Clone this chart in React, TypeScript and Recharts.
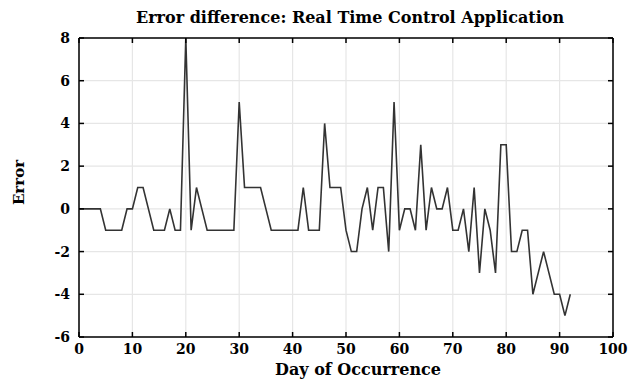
import React from "react";
import {
  LineChart,
  Line,
  XAxis,
  YAxis,
  CartesianGrid,
  Label,
} from "recharts";

const days = [
  0, 1, 2, 3, 4, 5, 6, 7, 8, 9, 10, 11, 12, 13, 14, 15, 16, 17, 18, 19, 20,
  21, 22, 23, 24, 25, 26, 27, 28, 29, 30, 31, 32, 33, 34, 35, 36, 37, 38, 39,
  40, 41, 42, 43, 44, 45, 46, 47, 48, 49, 50, 51, 52, 53, 54, 55, 56, 57, 58,
  59, 60, 61, 62, 63, 64, 65, 66, 67, 68, 69, 70, 71, 72, 73, 74, 75, 76, 77,
  78, 79, 80, 81, 82, 83, 84, 85, 86, 87, 88, 89, 90, 91, 92,
];

const errors = [
  0, 0, 0, 0, 0, -1, -1, -1, -1, 0, 0, 1, 1, 0, -1, -1, -1, 0, -1, -1, 8,
  -1, 1, 0, -1, -1, -1, -1, -1, -1, 5, 1, 1, 1, 1, 0, -1, -1, -1, -1,
  -1, -1, 1, -1, -1, -1, 4, 1, 1, 1, -1, -2, -2, 0, 1, -1, 1, 1, -2,
  5, -1, 0, 0, -1, 3, -1, 1, 0, 0, 1, -1, -1, 0, -2, 1, -3, 0, -1,
  -3, 3, 3, -2, -2, -1, -1, -4, -3, -2, -3, -4, -4, -5, -4,
];

const xTicks = [0, 10, 20, 30, 40, 50, 60, 70, 80, 90, 100];
const yTicks = [-6, -4, -2, 0, 2, 4, 6, 8];

const data = days.map((d, i) => ({ day: d, error: errors[i] }));

const FONT = "'DejaVu Serif', 'Liberation Serif', serif";
const tickStyle = { fontFamily: FONT, fontWeight: 700, fontSize: 14, fill: "#000" };
const labelStyle = { fontFamily: FONT, fontWeight: 700, fontSize: 16, fill: "#000" };

export default function App() {
  return (
    <div style={{ position: "absolute", left: 0, top: 0, width: 641, height: 379, background: "#fff" }}>
      <LineChart
        width={641}
        height={379}
        data={data}
        margin={{ top: 0, right: 0, bottom: 0, left: 0 }}
      >
        <text
          x={350}
          y={23}
          textAnchor="middle"
          style={{ fontFamily: FONT, fontWeight: 700, fontSize: 16, fill: "#000" }}
        >
          Error difference: Real Time Control Application
        </text>
        <CartesianGrid xAxisId="b" yAxisId="l" stroke="#e6e6e6" strokeWidth={1.2} />
        <XAxis
          xAxisId="b"
          dataKey="day"
          type="number"
          domain={[0, 100]}
          ticks={xTicks}
          interval={0}
          tickSize={-5}
          tickMargin={12}
          height={42}
          stroke="#000"
          strokeWidth={1.5}
          tick={tickStyle}
        >
          <Label
            value="Day of Occurrence"
            position="insideBottom"
            offset={0}
            dx={12}
            dy={-4}
            style={labelStyle}
          />
        </XAxis>
        <XAxis
          xAxisId="t"
          orientation="top"
          dataKey="day"
          type="number"
          domain={[0, 100]}
          ticks={xTicks}
          interval={0}
          tickSize={-5}
          tickFormatter={() => ""}
          height={38}
          stroke="#000"
          strokeWidth={1.5}
        />
        <YAxis
          yAxisId="l"
          type="number"
          domain={[-6, 8]}
          ticks={yTicks}
          interval={0}
          width={79}
          tickSize={-5}
          tickMargin={14}
          stroke="#000"
          strokeWidth={1.5}
          tick={tickStyle}
        >
          <Label
            value="Error"
            angle={-90}
            position="insideLeft"
            offset={19}
            dy={-5}
            style={{ ...labelStyle, fontSize: 15, textAnchor: "middle" }}
          />
        </YAxis>
        <YAxis
          yAxisId="r"
          orientation="right"
          type="number"
          domain={[-6, 8]}
          ticks={yTicks}
          interval={0}
          width={28}
          tickSize={-5}
          tickFormatter={() => ""}
          stroke="#000"
          strokeWidth={1.5}
        />
        <Line
          xAxisId="t"
          yAxisId="r"
          type="linear"
          dataKey="error"
          stroke="none"
          dot={false}
          legendType="none"
          isAnimationActive={false}
        />
        <Line
          xAxisId="b"
          yAxisId="l"
          type="linear"
          dataKey="error"
          stroke="#333"
          strokeWidth={1.6}
          dot={false}
          isAnimationActive={false}
        />
      </LineChart>
    </div>
  );
}
